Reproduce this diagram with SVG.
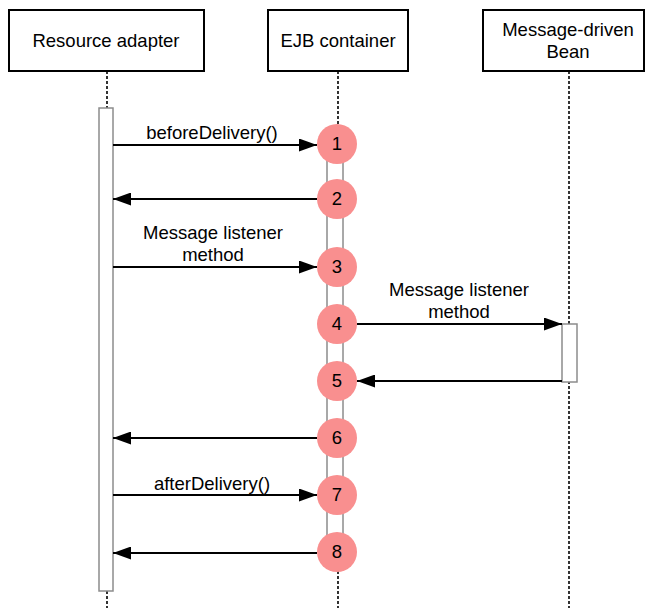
<svg xmlns="http://www.w3.org/2000/svg" width="645" height="608" viewBox="0 0 645 608">
<defs>
<marker id="ah" markerWidth="18" markerHeight="13" refX="18" refY="6.5" orient="auto" markerUnits="userSpaceOnUse">
<path d="M0,0 L18,6.5 L0,13 Z" fill="#000"/>
</marker>
<style>
text{font-family:"Liberation Sans",Arial,sans-serif;font-size:18.5px;fill:#000;text-anchor:middle}
.box{fill:#fff;stroke:#000;stroke-width:2}
.life{stroke:#000;stroke-width:1.6;stroke-dasharray:3,2;fill:none}
.act{fill:#fff;stroke:#8c8c8c;stroke-width:1.5}
.msg{stroke:#000;stroke-width:2.2;fill:none;marker-end:url(#ah)}
.step{fill:#f98f8f}
</style>
</defs>
<rect width="645" height="608" fill="#fff"/>
<g id="lifelines">
<line class="life" x1="107" y1="71" x2="107" y2="608"/>
<line class="life" x1="338" y1="71" x2="338" y2="608"/>
<line class="life" x1="569" y1="71" x2="569" y2="608"/>
</g>
<g id="node-resource-adapter">
<rect class="box" x="9" y="10" width="195" height="61"/>
<text x="106" y="47">Resource adapter</text>
<rect class="act" x="99" y="108" width="14" height="483"/>
</g>
<g id="node-ejb-container">
<rect class="box" x="268" y="10" width="140" height="61"/>
<text x="338" y="47">EJB container</text>
<rect class="act" x="327" y="144" width="16" height="409"/>
</g>
<g id="node-mdb">
<rect class="box" x="483" y="10" width="161" height="61"/>
<text x="568" y="36">Message-driven</text>
<text x="568" y="58">Bean</text>
<rect class="act" x="562" y="324" width="15" height="58"/>
</g>
<g id="connectors">
<line class="msg" x1="113" y1="145" x2="317" y2="145"/>
<text x="212" y="139">beforeDelivery()</text>
<line class="msg" x1="317" y1="199" x2="113" y2="199"/>
<line class="msg" x1="113" y1="267" x2="317" y2="267"/>
<text x="213" y="239">Message listener</text>
<text x="213" y="261">method</text>
<line class="msg" x1="357" y1="324" x2="562" y2="324"/>
<text x="459" y="296">Message listener</text>
<text x="459" y="318">method</text>
<line class="msg" x1="562" y1="381" x2="357" y2="381"/>
<line class="msg" x1="317" y1="438" x2="113" y2="438"/>
<line class="msg" x1="113" y1="495" x2="317" y2="495"/>
<text x="212" y="490">afterDelivery()</text>
<line class="msg" x1="317" y1="553" x2="113" y2="553"/>
</g>
<g id="steps">
<g id="step-1"><circle class="step" cx="337" cy="144" r="20"/><text x="337" y="150">1</text></g>
<g id="step-2"><circle class="step" cx="337" cy="199" r="20"/><text x="337" y="205">2</text></g>
<g id="step-3"><circle class="step" cx="337" cy="267" r="20"/><text x="337" y="273">3</text></g>
<g id="step-4"><circle class="step" cx="337" cy="324" r="20"/><text x="337" y="330">4</text></g>
<g id="step-5"><circle class="step" cx="337" cy="381" r="20"/><text x="337" y="387">5</text></g>
<g id="step-6"><circle class="step" cx="337" cy="438" r="20"/><text x="337" y="444">6</text></g>
<g id="step-7"><circle class="step" cx="337" cy="495" r="20"/><text x="337" y="501">7</text></g>
<g id="step-8"><circle class="step" cx="337" cy="552" r="20"/><text x="337" y="558">8</text></g>
</g>
</svg>
